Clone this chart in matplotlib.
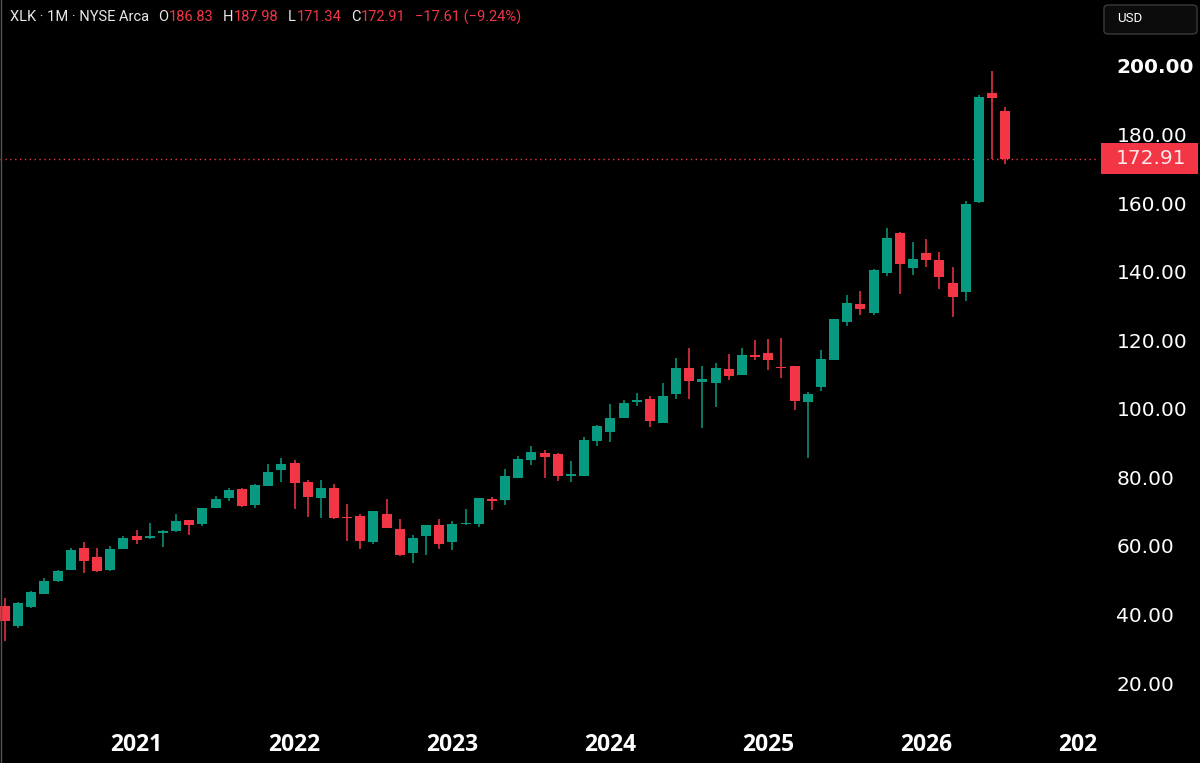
import matplotlib.pyplot as plt
import matplotlib.transforms as mtransforms
from matplotlib.patches import Rectangle, FancyBboxPatch
import numpy as np
import pandas as pd

# monthly XLK candles, Mar 2020 .. Jul 2026
months = pd.date_range("2020-03-01", periods=77, freq="MS")
opens = [42.6, 36.6, 42.2, 46.1, 49.7, 53.0, 59.4, 56.7, 53.0, 59.2,
         62.8, 62.4, 63.9, 64.3, 67.5, 66.5, 71.0, 74.0, 76.7, 71.9,
         77.6, 82.2, 84.2, 78.5, 74.1, 77.0, 68.4, 68.6, 61.1, 69.4,
         65.0, 58.0, 62.8, 66.0, 61.1, 66.3, 66.4, 73.7, 73.4, 79.9,
         85.0, 87.0, 86.7, 80.5, 80.5, 90.5, 93.3, 97.3, 101.9, 103.0,
         96.0, 104.4, 111.9, 107.8, 107.4, 111.6, 110.0, 115.8, 116.3, 111.9,
         112.5, 101.9, 106.4, 114.2, 125.3, 130.5, 128.0, 139.6, 151.2, 141.0,
         145.4, 143.4, 136.7, 134.0, 160.2, 192.2, 186.83]
highs = [44.9, 43.7, 46.9, 50.6, 52.9, 59.4, 61.2, 59.4, 60.0, 63.0,
         64.7, 66.8, 64.7, 69.2, 67.6, 71.2, 74.6, 76.9, 77.0, 78.1,
         84.0, 85.7, 85.1, 79.2, 79.1, 78.0, 72.2, 69.4, 70.3, 73.7,
         67.9, 63.1, 66.1, 67.9, 67.3, 70.7, 74.1, 74.2, 82.4, 86.2,
         89.2, 88.0, 87.0, 84.8, 91.7, 95.3, 101.5, 102.5, 104.6, 103.7,
         107.4, 114.7, 117.7, 112.5, 113.5, 116.1, 117.7, 120.1, 120.4, 120.6,
         112.6, 104.8, 117.2, 126.3, 133.3, 134.5, 140.8, 152.7, 151.6, 148.7,
         149.5, 145.8, 141.5, 160.6, 191.6, 198.6, 187.98]
lows = [32.4, 36.1, 42.0, 46.0, 49.5, 53.0, 52.2, 52.5, 52.8, 59.2,
        60.6, 61.9, 59.8, 64.2, 63.1, 65.7, 71.0, 73.0, 71.3, 71.0,
        77.5, 78.7, 70.7, 68.4, 68.2, 67.9, 61.4, 59.2, 60.6, 65.1,
        57.2, 54.9, 57.4, 59.2, 58.8, 66.0, 65.6, 70.4, 72.0, 79.8,
        83.5, 79.9, 79.0, 78.5, 80.4, 89.2, 90.4, 97.2, 100.7, 94.8,
        95.8, 102.8, 103.0, 94.3, 100.4, 108.5, 109.9, 114.2, 111.3, 109.1,
        99.6, 85.6, 105.2, 114.1, 124.2, 127.3, 127.5, 138.7, 133.4, 139.0,
        141.5, 134.9, 126.9, 131.5, 160.1, 172.9, 171.34]
closes = [38.1, 43.4, 46.6, 49.9, 52.7, 58.9, 55.6, 52.7, 59.1, 62.2,
          61.7, 62.8, 64.1, 67.3, 66.1, 71.1, 73.8, 76.4, 71.7, 77.8,
          81.5, 84.0, 78.3, 74.3, 76.9, 68.2, 68.0, 61.5, 70.1, 65.3,
          57.4, 62.2, 66.0, 60.6, 66.4, 66.5, 74.0, 73.1, 80.3, 85.3,
          87.3, 86.0, 80.5, 80.8, 90.9, 95.0, 97.3, 101.8, 102.7, 96.5,
          103.7, 111.9, 108.0, 108.7, 111.9, 109.7, 115.8, 115.1, 114.2, 111.8,
          102.4, 104.3, 114.6, 126.1, 130.8, 129.2, 140.6, 149.7, 142.3, 143.6,
          143.5, 138.5, 132.6, 159.7, 191.0, 190.52, 172.91]

price_ticks = [20, 40, 60, 80, 100, 120, 140, 160, 180, 200]

GREEN = '#089981'
RED = '#f23645'
W, H = 1200, 763

fig = plt.figure(figsize=(12, 7.63), dpi=100, facecolor='black')
ax = fig.add_axes([0, 1 - 712 / H, 1097 / W, 712 / H])
ax.set_facecolor('black')

x = np.arange(len(opens))
o = np.array(opens)
c = np.array(closes)
up = c >= o
colors = np.where(up, GREEN, RED)

ax.vlines(x, lows, highs, colors=colors, linewidth=1.1, zorder=2)
body_low = np.minimum(o, c)
body_h = np.maximum(np.abs(c - o), 0.4)
ax.bar(x, body_h, bottom=body_low, width=0.76, color=colors, linewidth=0, zorder=3)

ax.set_xlim(-0.38, 82.98)
ax.set_ylim(11.55, 219.25)

# year ticks (January of each year)
all_months = pd.date_range(months[0], periods=84, freq="MS")
year_idx = [i for i, d in enumerate(all_months) if d.month == 1]
ax.set_xticks(year_idx)
ax.set_xticklabels([str(all_months[i].year) for i in year_idx])
ax.tick_params(axis='x', length=0, pad=15, labelsize=16.5, colors='white')
for lbl in ax.get_xticklabels():
    lbl.set_fontfamily('Open Sans')
    lbl.set_fontweight('bold')
    lbl.set_clip_on(True)
    lbl.set_clip_box(mtransforms.TransformedBbox(
        mtransforms.Bbox([[0, 0], [1097 / W, 1]]), fig.transFigure))

ax.yaxis.tick_right()
ax.set_yticks(price_ticks)
ax.set_yticklabels([f"{v:.2f}" for v in price_ticks])
ax.tick_params(axis='y', length=0, pad=14, labelsize=14.5, colors='white')
for lbl in ax.get_yticklabels():
    if lbl.get_text() == "200.00":
        lbl.set_fontweight('bold')

for s in ax.spines.values():
    s.set_visible(False)

# last price line and tag
last = closes[-1]
ax.axhline(last, color=RED, linestyle=(0, (1, 2.5)), linewidth=1.0, zorder=1)
tr = mtransforms.blended_transform_factory(fig.transFigure, ax.transData)
tag_h = 31 / 3.428
ax.add_patch(Rectangle((1101 / W, last - tag_h / 2), 97 / W, tag_h,
                       transform=tr, facecolor=RED, edgecolor='none', clip_on=False))
ax.text(1116 / W, last, f"{last:.2f}", transform=tr, ha='left', va='center',
        fontsize=14.5, color='#ffe8ea', clip_on=False)

# currency box
fig.patches.append(FancyBboxPatch((1104 / W, 1 - 34 / H), 93 / W, 29 / H,
                                  boxstyle='round,pad=0,rounding_size=0.004',
                                  transform=fig.transFigure, facecolor='#0c0c0c',
                                  edgecolor='#3a3a3a', linewidth=1))
fig.text(1117 / W, 1 - 19 / H, "USD", color='white', fontsize=9.5, va='center',
         family='Roboto')

# header legend, pieces laid out one after another
change = closes[-1] - closes[-2]
pct = change / closes[-2] * 100
WHITE = '#e8e8e8'
pieces = [("XLK · 1M · NYSE Arca", WHITE, 9),
          ("O", WHITE, 1), (f"{opens[-1]:.2f}", RED, 9),
          ("H", WHITE, 1), (f"{highs[-1]:.2f}", RED, 9),
          ("L", WHITE, 1), (f"{lows[-1]:.2f}", RED, 9),
          ("C", WHITE, 1), (f"{closes[-1]:.2f}", RED, 9),
          (f"\u2212{abs(change):.2f} (\u2212{abs(pct):.2f}%)", RED, 0)]
renderer = fig.canvas.get_renderer()
hx = 10
hy = 1 - 17 / H
for txt, col, gap in pieces:
    t = fig.text(hx / W, hy, txt, color=col, fontsize=10.5, va='center', family='Roboto')
    hx += t.get_window_extent(renderer).width + gap

# thin left border
fig.add_artist(plt.Line2D([0.5 / W, 0.5 / W], [0, 1], color='#555555', linewidth=1,
                          transform=fig.transFigure))

fig.savefig("out.png", dpi=100, facecolor='black')
